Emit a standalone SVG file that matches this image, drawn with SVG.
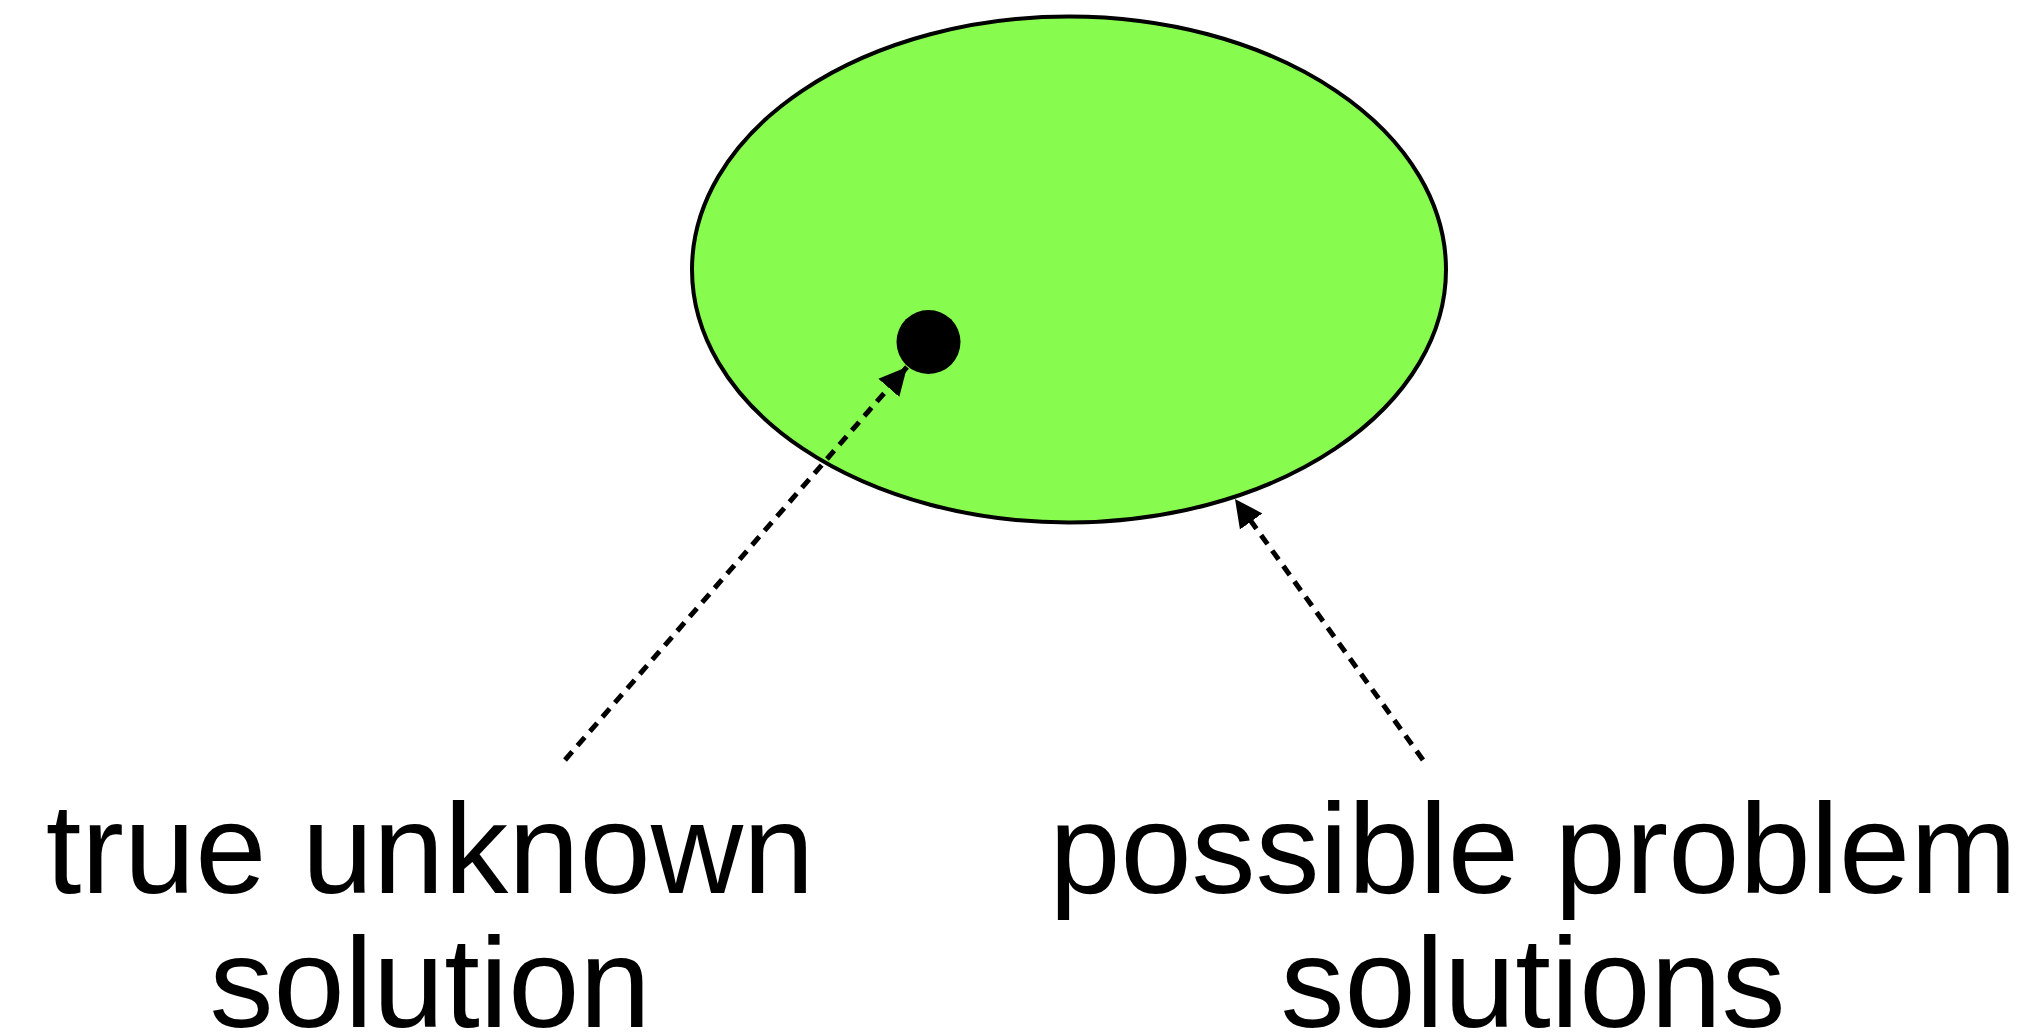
<svg xmlns="http://www.w3.org/2000/svg" width="2040" height="1034" viewBox="0 0 2040 1034">
<style>
.lbl{font-family:"Liberation Sans",Arial,Helvetica,sans-serif;font-size:128px;fill:#000;text-anchor:middle}
.conn{stroke:#000;stroke-width:5;stroke-dasharray:11 8;fill:none}
</style>
<defs>
<marker id="ah" markerUnits="userSpaceOnUse" markerWidth="30" markerHeight="30" viewBox="0 -13 26 26" refX="24" refY="0" orient="auto">
<path d="M0,-12 L24,0 L0,12 Z" fill="#000"/>
</marker>
</defs>
<rect width="2040" height="1034" fill="#fff"/>
<g id="solution-space">
<ellipse cx="1069" cy="269.5" rx="377" ry="253" fill="#88fc4e" stroke="#000" stroke-width="4"/>
</g>
<g id="true-solution-dot">
<circle cx="928.5" cy="342" r="32" fill="#000"/>
</g>
<g id="connectors">
<line class="conn" x1="565" y1="760" x2="907" y2="367" marker-end="url(#ah)"/>
<line class="conn" x1="1423" y1="760" x2="1235" y2="499" marker-end="url(#ah)"/>
</g>
<g id="label-true">
<text class="lbl" x="430" y="893">true unknown</text>
<text class="lbl" x="430" y="1027">solution</text>
</g>
<g id="label-possible">
<text class="lbl" x="1533" y="893">possible problem</text>
<text class="lbl" x="1533" y="1027">solutions</text>
</g>
</svg>
